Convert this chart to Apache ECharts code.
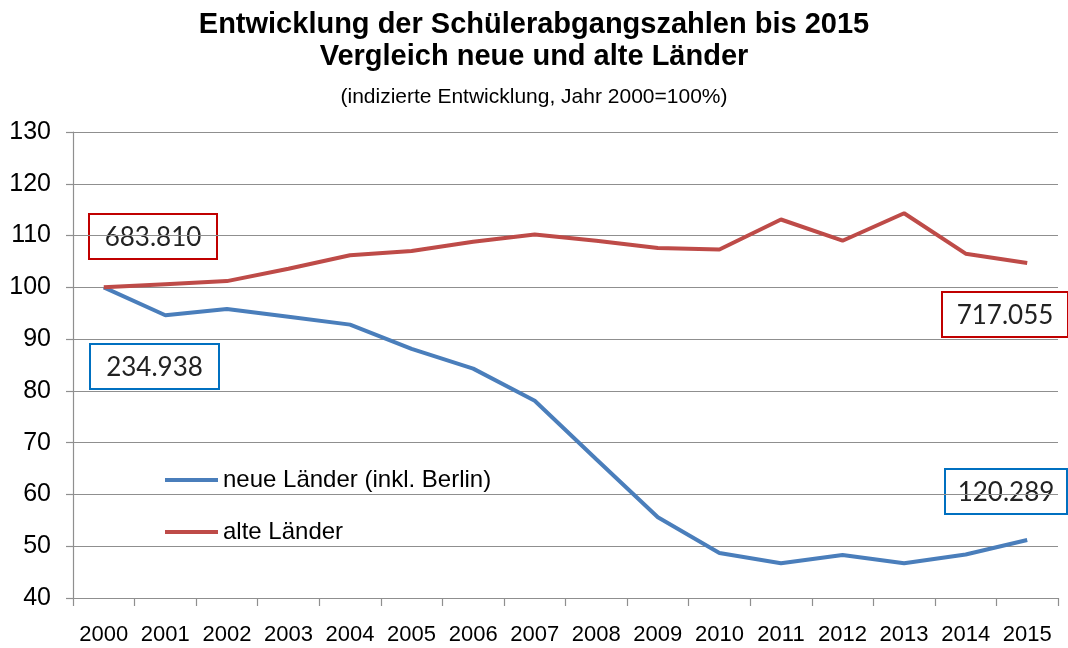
<!DOCTYPE html>
<html>
<head>
<meta charset="utf-8">
<script src="https://cdn.jsdelivr.net/npm/echarts@6/dist/echarts.min.js"></script>
<style>
    html, body {
        margin: 0;
        padding: 0;
        background: #fff;
    }

    #chart {
        width: 1068px;
        height: 648px;
    }
</style>
</head>
<body>
<div id="chart"></div>
<script>
// Jahre (x-Achse)
const years = ['2000', '2001', '2002', '2003', '2004', '2005', '2006', '2007',
    '2008', '2009', '2010', '2011', '2012', '2013', '2014', '2015'];

// indizierte Entwicklung, 2000 = 100
const neueLaender = [100, 94.6, 95.8, 94.3, 92.8, 88.1, 84.3, 78.1,
    66.8, 55.6, 48.7, 46.7, 48.3, 46.7, 48.4, 51.2];
const alteLaender = [100, 100.6, 101.2, 103.6, 106.2, 107.0, 108.8, 110.2,
    109.0, 107.6, 107.3, 113.1, 109.0, 114.3, 106.5, 104.7];

// Schülerabgänge absolut (Kästchen)
const boxTexts = ['683.810', '234.938', '717.055', '120.289'];

const yMin = 40;
const yMax = 130;
const yStep = 10;

const gridColor = '#8f8f8f';
const blue = '#4a7ebb';
const red = '#be4b48';

// Kästchen mit Absolutzahlen
function box(text, color, x, y, w, h) {
    return {
        type: 'group',
        left: x,
        top: y,
        z: 100,
        children: [
            {
                type: 'rect',
                shape: { x: 0, y: 0, width: w, height: h },
                style: { fill: '#fff', stroke: color, lineWidth: 2 }
            },
            {
                type: 'text',
                x: w / 2,
                y: h / 2 + 1,
                style: {
                    text: text,
                    fill: '#222',
                    font: '26px Lato, "Liberation Sans", sans-serif',
                    align: 'center',
                    verticalAlign: 'middle'
                }
            }
        ]
    };
}

var myChart = echarts.init(document.getElementById('chart'));

var titleFont = {
    fontFamily: 'Liberation Sans',
    fontWeight: 'bold',
    fontSize: 29,
    color: '#000'
};

var options = {
    animation: false,
    title: [
        {
            text: 'Entwicklung der Schülerabgangszahlen bis 2015',
            left: 'center',
            top: 5,
            textStyle: titleFont
        },
        {
            text: 'Vergleich neue und alte Länder',
            left: 'center',
            top: 37,
            textStyle: titleFont
        },
        {
            text: '(indizierte Entwicklung, Jahr 2000=100%)',
            left: 'center',
            top: 82,
            textStyle: {
                fontFamily: 'Liberation Sans',
                fontWeight: 'normal',
                fontSize: 21,
                color: '#000'
            }
        }
    ],
    legend: {
        orient: 'vertical',
        left: 160,
        top: 463,
        itemWidth: 53,
        itemHeight: 4,
        itemGap: 28,
        icon: 'rect',
        data: ['neue Länder (inkl. Berlin)', 'alte Länder'],
        textStyle: {
            fontFamily: 'Liberation Sans',
            fontSize: 24,
            color: '#000'
        }
    },
    grid: {
        left: 73,
        right: 10,
        top: 132,
        bottom: 50
    },
    xAxis: {
        type: 'category',
        data: years,
        axisLine: {
            show: true,
            lineStyle: { color: gridColor, width: 1.2 }
        },
        axisTick: {
            show: true,
            interval: 0,
            length: 8,
            lineStyle: { color: gridColor, width: 1.2 }
        },
        axisLabel: {
            interval: 0,
            margin: 26,
            color: '#000',
            fontFamily: 'Liberation Sans',
            fontSize: 22
        }
    },
    yAxis: {
        type: 'value',
        min: yMin,
        max: yMax,
        interval: yStep,
        axisLine: {
            show: true,
            lineStyle: { color: gridColor, width: 1.2 }
        },
        axisTick: {
            show: true,
            length: 7,
            lineStyle: { color: gridColor, width: 1.2 }
        },
        splitLine: {
            show: true,
            lineStyle: { color: gridColor, width: 1.2 }
        },
        axisLabel: {
            margin: 22,
            color: '#000',
            fontFamily: 'Liberation Sans',
            fontSize: 25
        }
    },
    series: [
        {
            name: 'neue Länder (inkl. Berlin)',
            type: 'line',
            data: neueLaender,
            symbol: 'none',
            lineStyle: { color: blue, width: 4 },
            itemStyle: { color: blue }
        },
        {
            name: 'alte Länder',
            type: 'line',
            data: alteLaender,
            symbol: 'none',
            lineStyle: { color: red, width: 4 },
            itemStyle: { color: red }
        }
    ],
    graphic: [
        box(boxTexts[0], '#c00000', 88, 213, 128, 45),
        box(boxTexts[1], '#0070c0', 89, 343, 129, 45),
        box(boxTexts[2], '#c00000', 941, 291, 126, 45),
        box(boxTexts[3], '#0070c0', 944, 468, 122, 45)
    ]
};

myChart.setOption(options);
</script>
</body>
</html>
